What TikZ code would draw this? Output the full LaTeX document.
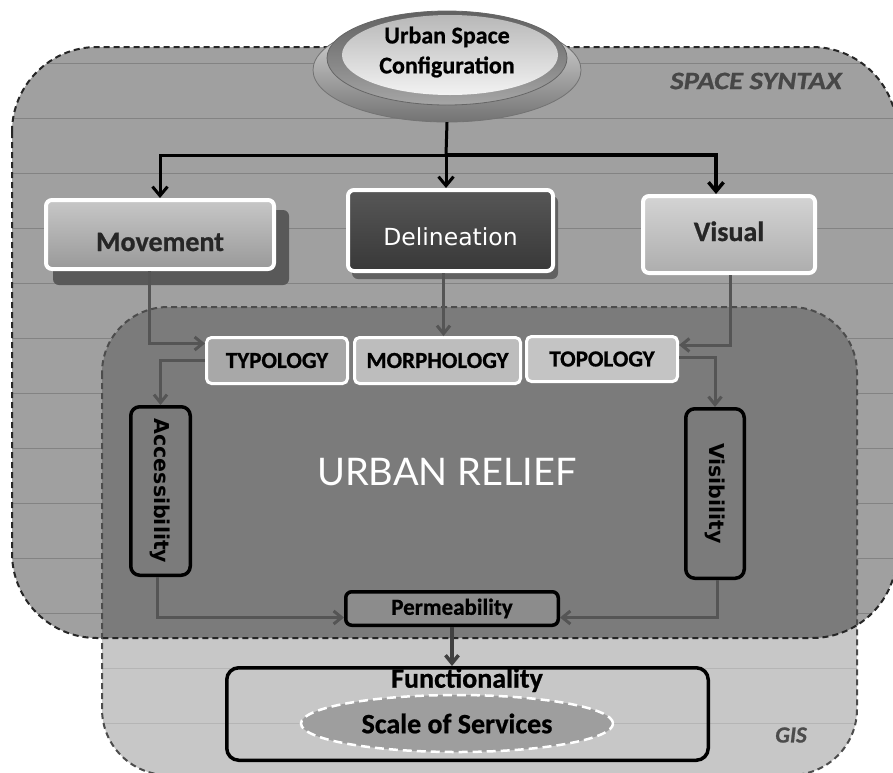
\documentclass[tikz,border=0pt]{standalone}
\usepackage{fontspec}
\usepackage{graphicx}
\setmainfont{Carlito}[BoldFeatures={FakeBold=0.8},BoldItalicFeatures={FakeBold=0.8}]
\newfontfamily\carlwide{Carlito}[FakeStretch=1.15,BoldFeatures={FakeBold=0.8},BoldItalicFeatures={FakeBold=0.8}]
\newfontfamily\djv{DejaVu Sans}
\newfontfamily\lato{Lato}
\usetikzlibrary{arrows.meta,shapes.geometric,calc}
\definecolor{ssfill}{HTML}{A0A0A0}
\definecolor{ssline}{HTML}{838383}
\definecolor{gisfill}{HTML}{C7C7C7}
\definecolor{gisline}{HTML}{B5B5B5}
\definecolor{relfill}{HTML}{7B7B7B}
\definecolor{conn}{HTML}{555555}
\begin{document}
\begin{tikzpicture}[x=1pt,y=-1pt,
  region/.style={dash pattern=on 6pt off 4pt, line width=2pt},
  wbox/.style={draw=white, line width=4pt, rounded corners=6pt, inner sep=0pt},
  tbox/.style={draw=white, line width=3pt, rounded corners=5pt, inner sep=0pt, text=black},
  kbox/.style={draw=black, line width=3.5pt, rounded corners=9pt, inner sep=0pt},
  blk/.style={line width=3pt, black, -{Straight Barb[length=9pt,width=15pt]}},
  gry/.style={line width=3pt, conn, -{Straight Barb[length=8pt,width=13pt]}},
]
\useasboundingbox (0,0) rectangle (893,772);

% regions
\fill[ssfill, rounded corners=85pt] (12,47) rectangle (897,638);
\begin{scope}
  \clip[rounded corners=85pt] (12,47) rectangle (897,638);
  \foreach \yy in {63,118,...,613} \draw[ssline, line width=1pt] (0,\yy) -- (900,\yy);
\end{scope}
\fill[gisfill, rounded corners=66pt] (102,307) rectangle (857,775);
\begin{scope}
  \clip[rounded corners=66pt] (102,307) rectangle (857,775);
  \foreach \yy in {668,723} \draw[gisline, line width=1pt] (0,\yy) -- (900,\yy);
  \clip[rounded corners=85pt] (12,47) rectangle (897,638);
  \fill[relfill] (0,0) rectangle (900,780);
\end{scope}
\draw[region, black!85, rounded corners=85pt] (12,47) rectangle (897,638);
\draw[region, black!70, rounded corners=66pt] (102,307) rectangle (857,775);

% region labels
\node[font=\carlwide\fontsize{25}{28}\selectfont\bfseries\itshape, text=black!72] (sslab) at (756,81) {SPACE SYNTAX};
\node[font=\fontsize{23}{26}\selectfont\bfseries\itshape, text=black!70] (gislab) at (791,735) {GIS};
\node[font=\lato\fontsize{38}{42}\selectfont, text=white] (urlab) at (447,472) {URBAN RELIEF};

% top button ellipse
\shade[top color=black!12, bottom color=black!55, draw=black!55, line width=0.8pt] (447,70) ellipse [x radius=134, y radius=52];
\shade[top color=black!62, bottom color=black!35, draw=black!60, line width=0.8pt] (447,58) ellipse [x radius=120, y radius=47];
\shade[top color=black!28, bottom color=black!5] (450,55) ellipse [x radius=108, y radius=40];
\node[ellipse, minimum width=268pt, minimum height=104pt, inner sep=0pt] (usc) at (447,70) {};
\node[align=center, inner sep=0pt, font=\fontsize{24}{30}\selectfont\bfseries] (usct) at (447,52)
      {Urban Space\\Configuration};

% shadows
\fill[black!65, rounded corners=6pt] (53,210) rectangle (289,285);
\fill[black!62, rounded corners=6pt] (352,196) rectangle (558,279);

% level 1 boxes
\node[wbox, minimum width=228pt, minimum height=69pt, top color=black!22, bottom color=black!40,
      font=\fontsize{28}{30}\selectfont\bfseries, text=black!85, text height=33pt, text depth=0pt]
      (mov) at (160,234.5) {Movement};
\node[wbox, minimum width=205pt, minimum height=81pt, top color=black!66, bottom color=black!78,
      font=\djv\fontsize{23.5}{26}\selectfont, text=white, text height=30pt, text depth=0pt]
      (del) at (450.5,230.5) {Delineation};
\node[wbox, minimum width=172pt, minimum height=77pt, top color=black!17, bottom color=black!32,
      font=\fontsize{28}{30}\selectfont\bfseries, text=black!85, text height=13pt, text depth=0pt]
      (vis) at (729,234.5) {Visual};

% level 2 boxes
\node[tbox, minimum width=141pt, minimum height=46pt, fill=black!34, font=\fontsize{23}{26}\selectfont\bfseries]
      (typ) at (277,360.5) {TYPOLOGY};
\node[tbox, minimum width=166pt, minimum height=46pt, fill=black!26, font=\fontsize{23}{26}\selectfont\bfseries]
      (mor) at (437.5,360.5) {MORPHOLOGY};
\node[tbox, minimum width=151pt, minimum height=45pt, fill=black!23, font=\fontsize{23}{26}\selectfont\bfseries]
      (top) at (602,359) {TOPOLOGY};

% side boxes
\node[kbox, minimum width=59.5pt, minimum height=168.5pt, font=\djv\fontsize{20.5}{24}\selectfont\bfseries]
      (acc) at (160.5,491) {\rotatebox{-90}{Accessibility}};
\node[kbox, minimum width=58.5pt, minimum height=169.5pt, font=\djv\fontsize{20.5}{24}\selectfont\bfseries]
      (visb) at (715,493.5) {\rotatebox{-90}{Visibility}};

% permeability
\node[kbox, rounded corners=6pt, minimum width=212.5pt, minimum height=33.5pt, fill=black!45,
      font=\fontsize{23}{24}\selectfont\bfseries] (perm) at (452,608.5) {Permeability};

% functionality
\node[kbox, rounded corners=12pt, minimum width=481.5pt, minimum height=92.5pt] (func) at (467.5,714) {};
\node[font=\fontsize{28}{30}\selectfont\bfseries, inner sep=0pt] (funct) at (467,680) {Functionality};
\node[ellipse, draw=white, line width=2.5pt, dash pattern=on 9pt off 5pt, fill=black!38,
      minimum width=312pt, minimum height=57pt, inner sep=0pt,
      font=\fontsize{28}{30}\selectfont\bfseries] (sos) at (457,723.5) {Scale of Services};

% connectors from top
\coordinate (bar) at (446,155);
\draw[line width=3pt] (usc.south) -- (bar);
\draw[blk] (bar) -| (mov.north);
\draw[blk] (bar) -- (bar |- del.north);
\draw[blk, line width=3.5pt] (bar) -| ([xshift=-13pt]vis.north);

% gray connectors
\draw[gry] ([xshift=-11pt]mov.south) |- ([yshift=17pt]typ.west);
\draw[gry] ([xshift=-7pt]del.south) -- ([xshift=-7pt]del.south |- mor.north);
\draw[gry] ([xshift=1pt]vis.south) |- ([yshift=14pt]top.east);
\draw[gry] (typ.west) -| (acc.north);
\draw[gry] ([yshift=2pt]top.east) -| (visb.north);
\draw[gry] ([xshift=-3.5pt]acc.south) |- ([yshift=-9pt]perm.west);
\draw[gry] ([xshift=2pt]visb.south) |- ([yshift=-9pt]perm.east);
\draw[gry, black!75, line width=3.5pt] (perm.south) -- (perm.south |- func.north);
\end{tikzpicture}
\end{document}
